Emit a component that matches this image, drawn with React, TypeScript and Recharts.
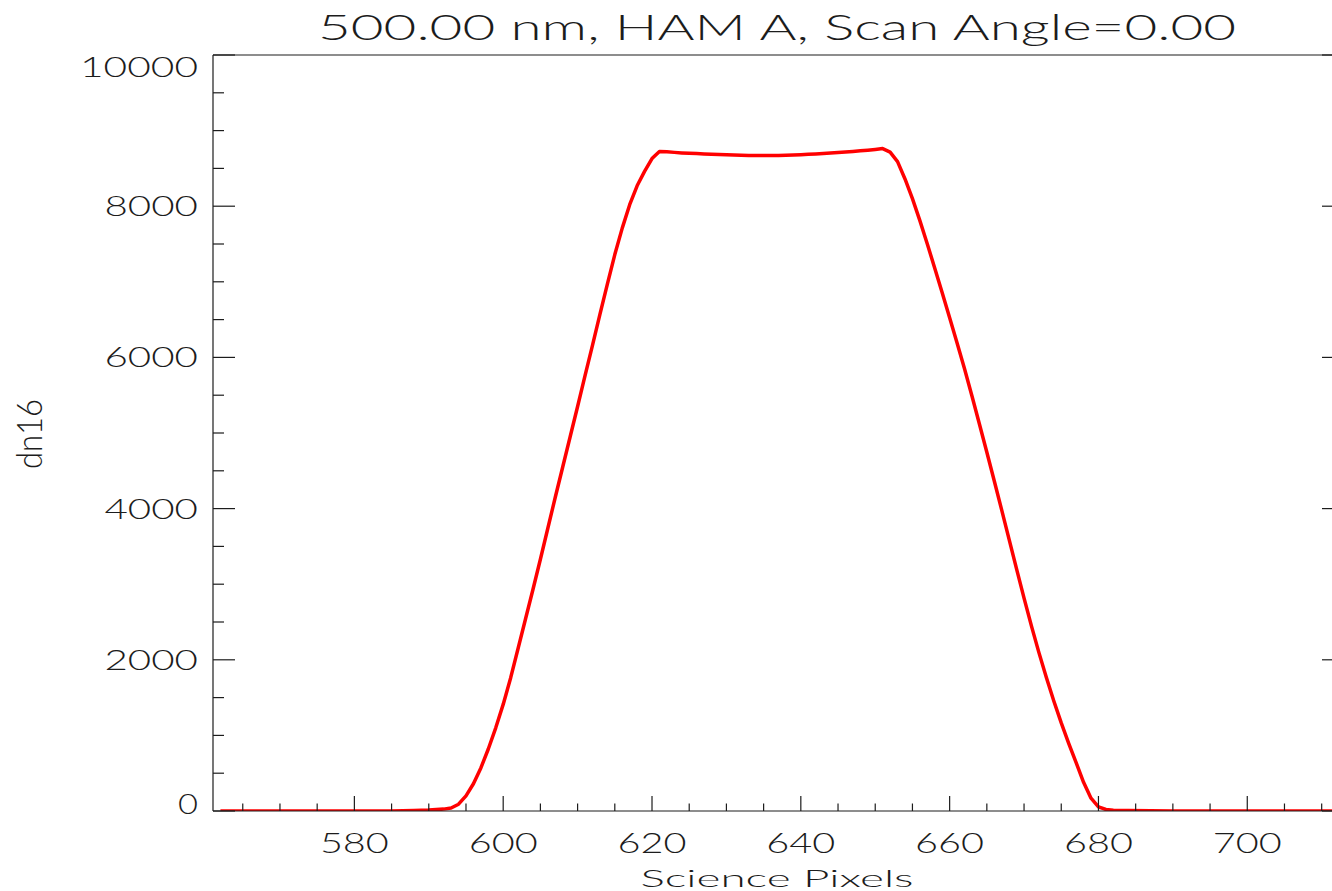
import { Line, LineChart, XAxis, YAxis } from "recharts";

// science pixel positions and the measured dn16 signal
const pixels = [
    562, 585, 588, 590, 592, 593, 594, 595, 596, 597, 598, 599, 600, 601, 602,
    603, 604, 605, 606, 607, 608, 609, 610, 611, 612, 613, 614, 615, 616, 617,
    618, 619, 620, 621, 622, 623, 624, 625, 626, 627, 628, 629, 630, 631, 632,
    633, 634, 635, 636, 637, 638, 639, 640, 641, 642, 643, 644, 645, 646, 647,
    648, 649, 650, 651, 652, 653, 654, 655, 656, 657, 658, 659, 660, 661, 662,
    663, 664, 665, 666, 667, 668, 669, 670, 671, 672, 673, 674, 675, 676, 677,
    678, 679, 680, 681, 682, 684, 690, 713,
];
const dn16 = [
    0, 0, 5, 12, 25, 40, 90, 200, 360, 570, 820, 1100, 1410, 1760, 2150,
    2540, 2930, 3330, 3740, 4150, 4550, 4950, 5350, 5760, 6160, 6570, 6970, 7360, 7710, 8020,
    8270, 8460, 8630, 8725, 8720, 8712, 8705, 8700, 8696, 8692, 8688, 8684, 8680, 8677, 8674,
    8672, 8670, 8669, 8670, 8672, 8675, 8678, 8682, 8687, 8692, 8697, 8703, 8710, 8717, 8724,
    8732, 8740, 8750, 8762, 8715, 8590, 8360, 8100, 7810, 7500, 7180, 6855, 6525, 6190, 5850,
    5490, 5120, 4745, 4365, 3980, 3590, 3200, 2815, 2445, 2095, 1765, 1455, 1165, 895, 640,
    380, 170, 55, 20, 10, 5, 0, 0,
];

const xMajor = [580, 600, 620, 640, 660, 680, 700];
const xTicks = [
    565, 570, 575, 580, 585, 590, 595, 600, 605, 610, 615, 620, 625, 630, 635,
    640, 645, 650, 655, 660, 665, 670, 675, 680, 685, 690, 695, 700, 705, 710,
];
const yMajor = [0, 2000, 4000, 6000, 8000, 10000];
const yTicks = [
    0, 500, 1000, 1500, 2000, 2500, 3000, 3500, 4000, 4500, 5000, 5500, 6000,
    6500, 7000, 7500, 8000, 8500, 9000, 9500, 10000,
];

const title = "500.00 nm, HAM A, Scan Angle=0.00";
const xTitle = "Science Pixels";
const yTitle = "dn16";

const data = pixels.map((p, i) => ({ px: p, dn: dn16[i] }));

const FONT = "Lato, 'DejaVu Sans', sans-serif";
const INK = "#1c1c1c";

function BottomTick({ x, y, payload }: any) {
    const major = xMajor.includes(payload.value);
    const label = String(payload.value);
    return (
        <g>
            <line x1={x} x2={x} y1={y} y2={y - (major ? 15 : 7.5)} stroke={INK} strokeWidth={1.2} />
            {major && (
                <text
                    x={x}
                    y={y + 42}
                    textAnchor="middle"
                    fontSize={28}
                    fontWeight={300}
                    fontFamily={FONT}
                    fill={INK}
                    textLength={label.length * 24.5 - 4.5}
                    lengthAdjust="spacingAndGlyphs"
                >
                    {label}
                </text>
            )}
        </g>
    );
}

function TopTick({ x, y, payload }: any) {
    const major = xMajor.includes(payload.value);
    return <line x1={x} x2={x} y1={y} y2={y + (major ? 15 : 7.5)} stroke={INK} strokeWidth={1.2} />;
}

function LeftTick({ x, y, payload }: any) {
    const v = payload.value;
    const major = yMajor.includes(v);
    const label = String(v);
    // IDL keeps the end labels inside the axis range
    const mid = v === 0 ? y - 7 : v === 10000 ? y + 12 : y;
    return (
        <g>
            <line x1={x} x2={x + (major ? 22 : 11)} y1={y} y2={y} stroke={INK} strokeWidth={1.2} />
            {major && (
                <text
                    x={x - 15}
                    y={mid + 10}
                    textAnchor="end"
                    fontSize={28}
                    fontWeight={300}
                    fontFamily={FONT}
                    fill={INK}
                    textLength={label.length * 24.5 - 4.5}
                    lengthAdjust="spacingAndGlyphs"
                >
                    {label}
                </text>
            )}
        </g>
    );
}

function RightTick({ x, y, payload }: any) {
    const major = yMajor.includes(payload.value);
    return <line x1={x} x2={x - (major ? 22 : 11)} y1={y} y2={y} stroke={INK} strokeWidth={1.2} />;
}

export default function App() {
    const axisLine = { stroke: INK, strokeWidth: 1.2 };
    return (
        <div
            style={{
                position: "fixed",
                left: 0,
                top: 0,
                width: 1332,
                height: 891,
                overflow: "hidden",
                background: "#fff",
            }}
        >
            <LineChart
                width={1360}
                height={891}
                data={data}
                margin={{ top: 54, right: 15, bottom: 79, left: 212 }}
            >
                <XAxis
                    xAxisId="b"
                    dataKey="px"
                    type="number"
                    domain={[561, 713]}
                    allowDataOverflow
                    ticks={xTicks}
                    interval={0}
                    tickSize={0}
                    tickMargin={0}
                    tickLine={false}
                    axisLine={axisLine}
                    tick={<BottomTick />}
                    height={1}
                />
                <XAxis
                    xAxisId="t"
                    orientation="top"
                    type="number"
                    domain={[561, 713]}
                    allowDataOverflow
                    ticks={xTicks}
                    interval={0}
                    tickSize={0}
                    tickMargin={0}
                    tickLine={false}
                    axisLine={axisLine}
                    tick={<TopTick />}
                    height={1}
                />
                <YAxis
                    yAxisId="l"
                    type="number"
                    domain={[0, 10000]}
                    allowDataOverflow
                    ticks={yTicks}
                    interval={0}
                    tickSize={0}
                    tickMargin={0}
                    tickLine={false}
                    axisLine={axisLine}
                    tick={<LeftTick />}
                    width={1}
                />
                <YAxis
                    yAxisId="r"
                    orientation="right"
                    type="number"
                    domain={[0, 10000]}
                    allowDataOverflow
                    ticks={yTicks}
                    interval={0}
                    tickSize={0}
                    tickMargin={0}
                    tickLine={false}
                    axisLine={axisLine}
                    tick={<RightTick />}
                    width={1}
                />
                <Line
                    xAxisId="b"
                    yAxisId="l"
                    type="linear"
                    dataKey="dn"
                    stroke="#ff0000"
                    strokeWidth={3.5}
                    strokeLinejoin="round"
                    dot={false}
                    isAnimationActive={false}
                />
            </LineChart>
            <svg
                width={1332}
                height={891}
                style={{ position: "absolute", left: 0, top: 0, pointerEvents: "none" }}
            >
                <text
                    x={777}
                    y={40}
                    textAnchor="middle"
                    fontSize={36}
                    fontWeight={300}
                    fontFamily={FONT}
                    fill={INK}
                    textLength={918}
                    lengthAdjust="spacingAndGlyphs"
                >
                    {title}
                </text>
                <text
                    x={777}
                    y={887}
                    textAnchor="middle"
                    fontSize={24}
                    fontWeight={300}
                    fontFamily={FONT}
                    fill={INK}
                    textLength={273}
                    lengthAdjust="spacingAndGlyphs"
                >
                    {xTitle}
                </text>
                <text
                    transform="translate(42,434) rotate(-90)"
                    textAnchor="middle"
                    fontSize={35}
                    fontWeight={300}
                    fontFamily={FONT}
                    fill={INK}
                    textLength={70}
                    lengthAdjust="spacingAndGlyphs"
                >
                    {yTitle}
                </text>
            </svg>
        </div>
    );
}
